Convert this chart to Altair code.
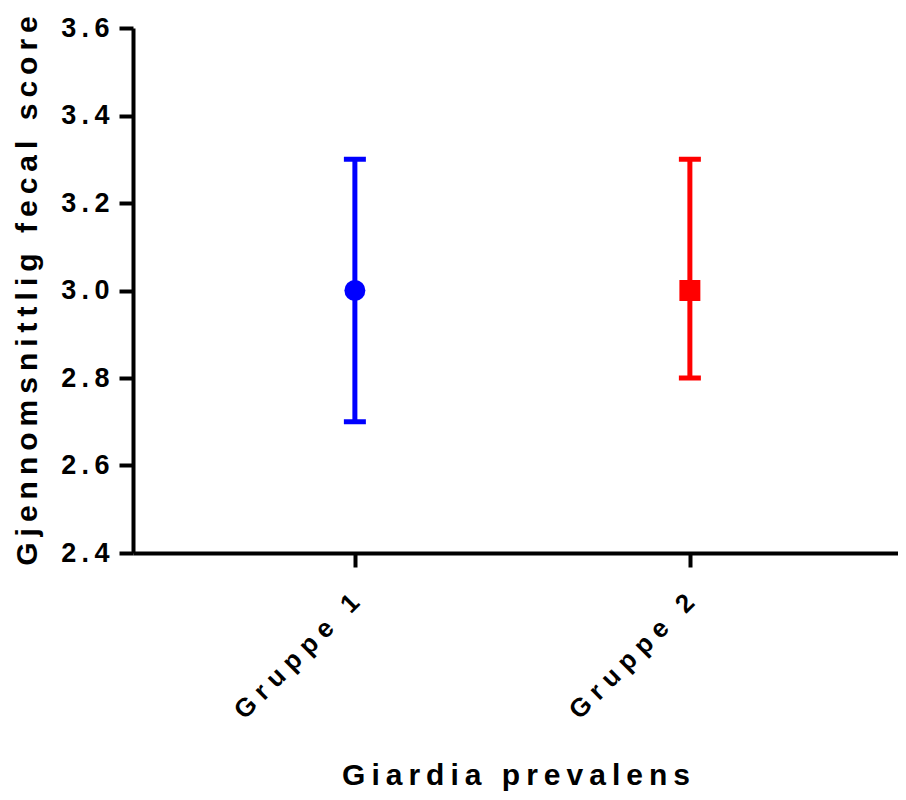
import altair as alt
import pandas as pd

groups = ["Gruppe 1", "Gruppe 2"]
means = [3.0, 3.0]
lower = [2.7, 2.8]
upper = [3.3, 3.3]
shapes = ["circle", "square"]
colors = ["#0000FF", "#FF0000"]

y_ticks = [2.4, 2.6, 2.8, 3.0, 3.2, 3.4, 3.6]
x_title = "Giardia prevalens"
y_title = "Gjennomsnittlig fecal score"

TS = "\u2009"
def spaced(s):
    return TS.join(list(s))

df = pd.DataFrame({"group": groups, "mean": means, "lo": lower, "hi": upper, "shape": shapes})

FONT = "Liberation Sans"

x_enc = alt.X("group:N", scale=alt.Scale(type="point", domain=groups, padding=0.6418, align=0.516),
              axis=alt.Axis(title=spaced(x_title), labelAngle=-45,
                            labelAlign="right", labelBaseline="middle",
                            labelExpr="join(split(datum.label, ''), '\u00a0')",
                            labelFontSize=26, labelFont=FONT, labelFontWeight="bold",
                            labelColor="black", labelPadding=31,
                            titleFontSize=30, titleFont=FONT, titleFontWeight="bold",
                            titleColor="black", titlePadding=37,
                            domainColor="black", domainWidth=4,
                            tickColor="black", tickWidth=4, tickSize=14, grid=False))
y_scale = alt.Scale(domain=[2.4, 3.6], nice=False, zero=False)
color = alt.Color("group:N", scale=alt.Scale(domain=groups, range=colors), legend=None)

base = alt.Chart(df)

rules = base.mark_rule(strokeWidth=5).encode(
    x=x_enc,
    y=alt.Y("lo:Q", scale=y_scale,
            axis=alt.Axis(title=spaced(y_title), values=y_ticks, format=".1f",
                          labelExpr="join(split(datum.label, ''), '\u2009')",
                          labelFontSize=27, labelFont=FONT, labelFontWeight="bold",
                          labelColor="black", labelPadding=10,
                          titleFontSize=30, titleFont=FONT, titleFontWeight="bold",
                          titleColor="black", titlePadding=18,
                          domainColor="black", domainWidth=4,
                          tickColor="black", tickWidth=4, tickSize=14, grid=False)),
    y2="hi:Q",
    color=color,
)

cap_lo = base.mark_tick(thickness=5, size=22, opacity=1).encode(x="group:N", y=alt.Y("lo:Q", scale=y_scale), color=color)
cap_hi = base.mark_tick(thickness=5, size=22, opacity=1).encode(x="group:N", y=alt.Y("hi:Q", scale=y_scale), color=color)

points = base.mark_point(filled=True, opacity=1, size=440).encode(
    x="group:N",
    y=alt.Y("mean:Q", scale=y_scale),
    color=color,
    shape=alt.Shape("group:N", scale=alt.Scale(domain=groups, range=shapes), legend=None),
)

chart = alt.layer(rules, cap_lo, cap_hi, points).properties(
    width=765, height=525,
    autosize=alt.AutoSizeParams(type="none"),
    padding={"left": 125, "top": 20, "right": 0, "bottom": 239},
).configure_view(stroke=None)

chart.save("out.html", embed_options={"renderer": "svg", "actions": False})
